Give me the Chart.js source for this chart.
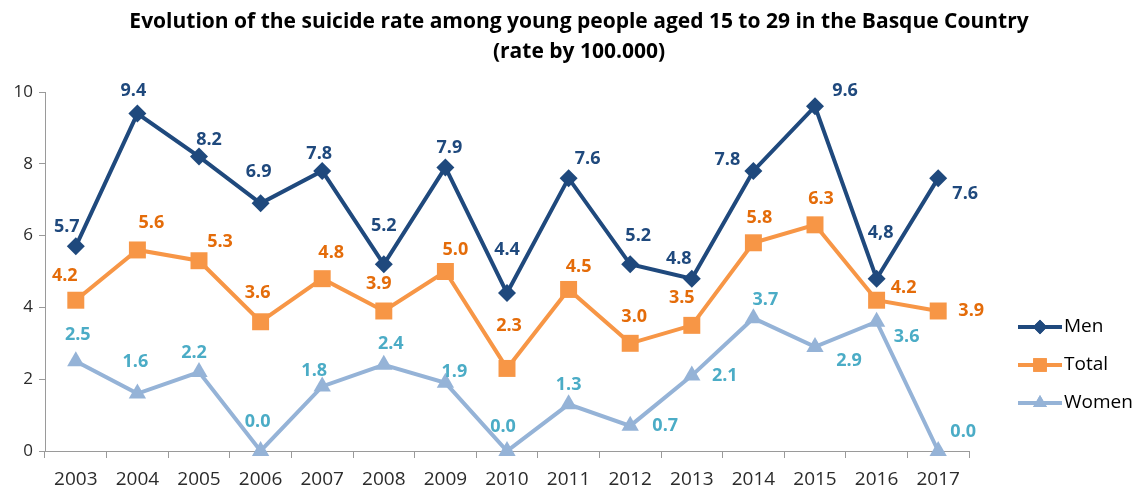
<!DOCTYPE html>
<html>
<head>
<meta charset="utf-8">
<script src="https://cdn.jsdelivr.net/npm/chart.js@4.4.1/dist/chart.umd.min.js"></script>
<style>
  html, body { margin: 0; background: #fff; }
  #wrap { width: 1140px; height: 486px; }
</style>
</head>
<body>
<div id="wrap"><canvas id="chart"></canvas></div>
<script>
// data
const years = ['2003','2004','2005','2006','2007','2008','2009','2010','2011','2012','2013','2014','2015','2016','2017'];
const men   = [5.7, 9.4, 8.2, 6.9, 7.8, 5.2, 7.9, 4.4, 7.6, 5.2, 4.8, 7.8, 9.6, 4.8, 7.6];
const total = [4.2, 5.6, 5.3, 3.6, 4.8, 3.9, 5.0, 2.3, 4.5, 3.0, 3.5, 5.8, 6.3, 4.2, 3.9];
const women = [2.5, 1.6, 2.2, 0.0, 1.8, 2.4, 1.9, 0.0, 1.3, 0.7, 2.1, 3.7, 2.9, 3.6, 0.0];
const yTicks = [0, 2, 4, 6, 8, 10];

// the source writes one label with a decimal comma
const menText = men.map(v => v.toFixed(1));
menText[13] = '4,8';

// where each value label sits relative to its point (px)
const menLabelPos   = [[-9,-19],[-4,-23],[10,-17],[-2,-31],[-3,-17],[0,-38],[4,-20],[0,-43],[19,-19],[8,-28],[-13,-20],[-26,-11],[30,-15],[4,-46],[27,16]];
const totalLabelPos = [[-11,-24],[14,-27],[21,-19],[-3,-29],[9,-26],[-5,-27],[10,-22],[2,-43],[10,-23],[4,-26],[-10,-27],[6,-25],[6,-26],[27,-12],[33,0]];
const womenLabelPos = [[2,-26],[-2,-32],[-5,-19],[-3,-29],[-8,-16],[7,-21],[9,-11],[-4,-24],[0,-19],[35,0],[33,0],[12,-18],[34,14],[30,15],[25,-19]];

const FONT = "'Open Sans', 'DejaVu Sans', sans-serif";
const axisGray = '#9a9a9a';
const tickColor = '#2b2b2b';

const valueLabels = {
  id: 'valueLabels',
  afterDatasetsDraw(chart) {
    const ctx = chart.ctx;
    ctx.save();
    ctx.font = 'bold 18px ' + FONT;
    ctx.textAlign = 'center';
    ctx.textBaseline = 'middle';
    chart.data.datasets.forEach((ds, di) => {
      const meta = chart.getDatasetMeta(di);
      ctx.fillStyle = ds.labelColor;
      meta.data.forEach((pt, i) => {
        const off = ds.labelPos[i];
        ctx.fillText(ds.labelText[i], pt.x + off[0], pt.y + off[1]);
      });
    });
    ctx.restore();
  }
};

const titleAndLegend = {
  id: 'titleAndLegend',
  afterDraw(chart) {
    const ctx = chart.ctx;
    ctx.save();
    // title
    ctx.fillStyle = '#000';
    ctx.font = 'bold 21px ' + FONT;
    ctx.textAlign = 'center';
    ctx.textBaseline = 'middle';
    ctx.fillText('Evolution of the suicide rate among young people aged 15 to 29 in the Basque Country', 579, 22);
    ctx.fillText('(rate by 100.000)', 579, 52);

    // legend
    const rows = [327, 365, 403];
    ctx.font = '19px ' + FONT;
    ctx.textAlign = 'left';
    chart.data.datasets.forEach((ds, di) => {
      const y = rows[di];
      ctx.strokeStyle = ds.borderColor;
      ctx.lineWidth = ds.borderWidth;
      ctx.beginPath();
      ctx.moveTo(1018, y);
      ctx.lineTo(1062, y);
      ctx.stroke();
      ctx.fillStyle = ds.borderColor;
      Chart.helpers.drawPoint(ctx, {
        pointStyle: ds.pointStyle,
        radius: ds.pointRadius * 0.8,
        borderWidth: 0
      }, 1040, y);
      ctx.fill();
      ctx.fillStyle = '#000';
      ctx.fillText(ds.label, 1064, y);
    });
    ctx.restore();
  }
};

new Chart(document.getElementById('chart'), {
  type: 'line',
  data: {
    labels: years,
    datasets: [
      {
        label: 'Men', data: men,
        borderColor: '#1F497D', backgroundColor: '#1F497D', borderWidth: 4,
        pointStyle: 'rectRot', pointRadius: 9, pointBorderWidth: 0,
        labelColor: '#1F497D', labelText: menText, labelPos: menLabelPos
      },
      {
        label: 'Total', data: total,
        borderColor: '#F79646', backgroundColor: '#F79646', borderWidth: 4,
        pointStyle: 'rect', pointRadius: 12, pointBorderWidth: 0,
        labelColor: '#E46C0A', labelText: total.map(v => v.toFixed(1)), labelPos: totalLabelPos
      },
      {
        label: 'Women', data: women,
        borderColor: '#95B3D7', backgroundColor: '#95B3D7', borderWidth: 4,
        pointStyle: 'triangle', pointRadius: 10, pointBorderWidth: 0,
        labelColor: '#4BACC6', labelText: women.map(v => v.toFixed(1)), labelPos: womenLabelPos
      }
    ]
  },
  options: {
    responsive: true,
    maintainAspectRatio: false,
    animation: false,
    devicePixelRatio: 1,
    clip: false,
    layout: { padding: { top: 92, right: 171, left: 0, bottom: 0 } },
    elements: { line: { tension: 0 } },
    plugins: {
      legend: { display: false },
      title: { display: false },
      tooltip: { enabled: false }
    },
    scales: {
      x: {
        offset: true,
        grid: { display: true, drawOnChartArea: false, offset: true, tickLength: 7, color: axisGray },
        border: { color: axisGray, width: 1 },
        ticks: { color: tickColor, font: { size: 19, family: FONT }, padding: 10, maxRotation: 0 },
        afterFit(s) { s.height = 35; }
      },
      y: {
        min: 0, max: 10,
        afterBuildTicks(s) { s.ticks = yTicks.map(v => ({ value: v })); },
        grid: { display: true, drawOnChartArea: false, tickLength: 6, color: axisGray },
        border: { color: axisGray, width: 1 },
        ticks: { color: tickColor, font: { size: 17, family: FONT }, padding: 6 },
        afterFit(s) { s.width = 45; }
      }
    }
  },
  plugins: [valueLabels, titleAndLegend]
});
</script>
</body>
</html>
